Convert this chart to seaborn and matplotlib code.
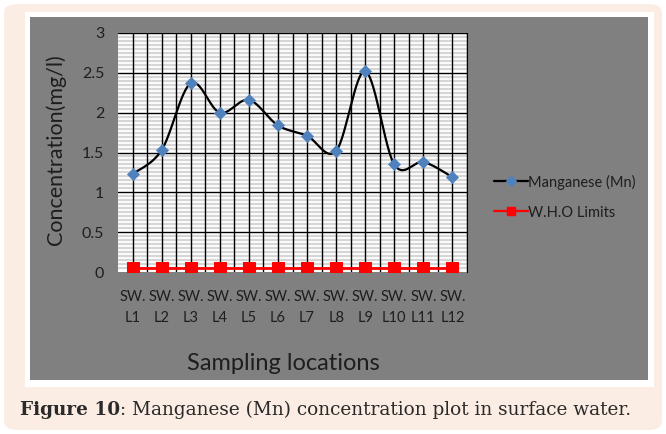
import numpy as np
import pandas as pd
import matplotlib
matplotlib.use("Agg")
import matplotlib.pyplot as plt
import seaborn as sns
from matplotlib.patches import FancyBboxPatch, Rectangle
from matplotlib.lines import Line2D

# ---- data ----
locations = ["SW.\nL1", "SW.\nL2", "SW.\nL3", "SW.\nL4", "SW.\nL5", "SW.\nL6",
             "SW.\nL7", "SW.\nL8", "SW.\nL9", "SW.\nL10", "SW.\nL11", "SW.\nL12"]
manganese = [1.23, 1.53, 2.37, 2.00, 2.16, 1.84, 1.71, 1.52, 2.52, 1.35, 1.38, 1.19]
who_limits = [0.05] * 12
y_ticks = [0, 0.5, 1, 1.5, 2, 2.5, 3]
y_tick_labels = ["0", "0.5", "1", "1.5", "2", "2.5", "3"]

sns.set_style("white")
plt.rcParams['font.family'] = ['Lato', 'DejaVu Sans']

W, H = 666, 434
fig = plt.figure(figsize=(W / 100, H / 100), dpi=100)
fig.patch.set_facecolor("white")

def px(x0, y0, x1, y1):
    return [x0 / W, 1 - y1 / H, (x1 - x0) / W, (y1 - y0) / H]

# backgrounds
fig.patches.append(FancyBboxPatch((4 / W, 4 / H), (W - 8) / W, (H - 8) / H,
                                  boxstyle="round,pad=0,rounding_size=0.02",
                                  transform=fig.transFigure, facecolor="#FBEDE3",
                                  edgecolor="none", zorder=-3))
fig.patches.append(Rectangle((25 / W, 1 - 387 / H), 629 / W, 375 / H,
                             transform=fig.transFigure, facecolor="white",
                             edgecolor="none", zorder=-2))
fig.patches.append(Rectangle((30 / W, 1 - 380 / H), 618 / W, 363 / H,
                             transform=fig.transFigure, facecolor="#808080",
                             edgecolor="none", zorder=-1))

ax = fig.add_axes(px(118, 33, 467, 272))
ax.set_zorder(2)
ax.set_facecolor("white")
n = len(manganese)
xs = np.arange(n)

# grid
minor = np.round(np.arange(0.05, 3.0001, 0.05), 2)
for yv in minor:
    if round(yv * 100) % 50 != 0:
        ax.axhline(yv, color="#D6D6D6", lw=1.6, zorder=1.5)
for yv in [0.5, 1, 1.5, 2, 2.5, 3]:
    ax.axhline(yv, color="black", lw=1.0, zorder=2)
for xv in np.arange(0, n, 0.5):
    ax.axvline(xv, color="black", lw=1.0, zorder=2)

# smoothed curve (Excel-style) for the manganese series
def smooth(x, y, steps=30):
    x = np.asarray(x, float); y = np.asarray(y, float)
    P = np.column_stack([x, y])
    out = []
    for i in range(len(P) - 1):
        p0 = P[i - 1] if i > 0 else P[i]
        p1, p2 = P[i], P[i + 1]
        p3 = P[i + 2] if i + 2 < len(P) else P[i + 1]
        c1 = p1 + (p2 - p0) / 6
        c2 = p2 - (p3 - p1) / 6
        t = np.linspace(0, 1, steps)[:, None]
        seg = ((1 - t) ** 3) * p1 + 3 * ((1 - t) ** 2) * t * c1 + 3 * (1 - t) * t ** 2 * c2 + t ** 3 * p2
        out.append(seg if i == 0 else seg[1:])
    s = np.vstack(out)
    return s[:, 0], s[:, 1]

sx, sy = smooth(xs, manganese)
ax.plot(sx, sy, color="black", lw=1.6, zorder=3)
df_mn = pd.DataFrame({"x": xs, "y": manganese})
sns.scatterplot(data=df_mn, x="x", y="y", marker="D", s=38, color="#4F81BD",
                edgecolor="#4F81BD", ax=ax, zorder=4)

df_who = pd.DataFrame({"x": xs, "y": who_limits})
sns.lineplot(data=df_who, x="x", y="y", color="#FF0000", lw=2, marker="s",
             markersize=8, markeredgecolor="#FF0000", ax=ax, zorder=4)

ax.set_xlim(-0.5, n - 0.5)
ax.set_ylim(0, 3)
for s in ax.spines.values():
    s.set_visible(False)
ax.spines["right"].set_visible(True)
ax.spines["right"].set_color("black")
ax.set_yticks(y_ticks)
ax.set_yticklabels(y_tick_labels, fontsize=11.5, color="#1E1E1E")
ax.set_xticks(xs)
ax.set_xticklabels(locations, fontsize=10.5, color="#1E1E1E", linespacing=1.6)
ax.tick_params(axis="both", length=0)
ax.tick_params(axis="y", pad=10)
ax.tick_params(axis="x", pad=13)
ax.set_xlabel("")
ax.set_ylabel("")

fig.text(56 / W, 1 - 150 / H, "Concentration(mg/l)", rotation=90, fontsize=15.5,
         ha="center", va="center", color="#1E1E1E")
fig.text(283 / W, 1 - 364 / H, "Sampling locations", fontsize=17,
         ha="center", va="center", color="#1E1E1E")

handles = [Line2D([0], [0], color="black", lw=1.6, marker="D", markersize=5,
                  markerfacecolor="#4F81BD", markeredgecolor="#4F81BD"),
           Line2D([0], [0], color="#FF0000", lw=1.6, marker="s", markersize=6,
                  markerfacecolor="#FF0000", markeredgecolor="#FF0000")]
leg = fig.legend(handles, ["Manganese (Mn)", "W.H.O Limits"], loc="center left",
                 bbox_to_anchor=(481 / W, 1 - 197 / H), frameon=False,
                 fontsize=10.5, handlelength=2.3, handletextpad=0.05,
                 labelspacing=1.1)
leg.set_zorder(3)
for t in leg.get_texts():
    t.set_color("#1E1E1E")

t1 = fig.text(20 / W, 1 - 410 / H, "Figure 10", fontsize=13.3, va="center",
              ha="left", color="#2A2A2A", family="DejaVu Serif", weight="bold")
fig.canvas.draw()
bb = t1.get_window_extent()
fig.text(bb.x1 / W, 1 - 410 / H, ": Manganese (Mn) concentration plot in surface water.",
         fontsize=13.3, va="center", ha="left", color="#2A2A2A", family="DejaVu Serif")

fig.savefig("out.png", dpi=100)
